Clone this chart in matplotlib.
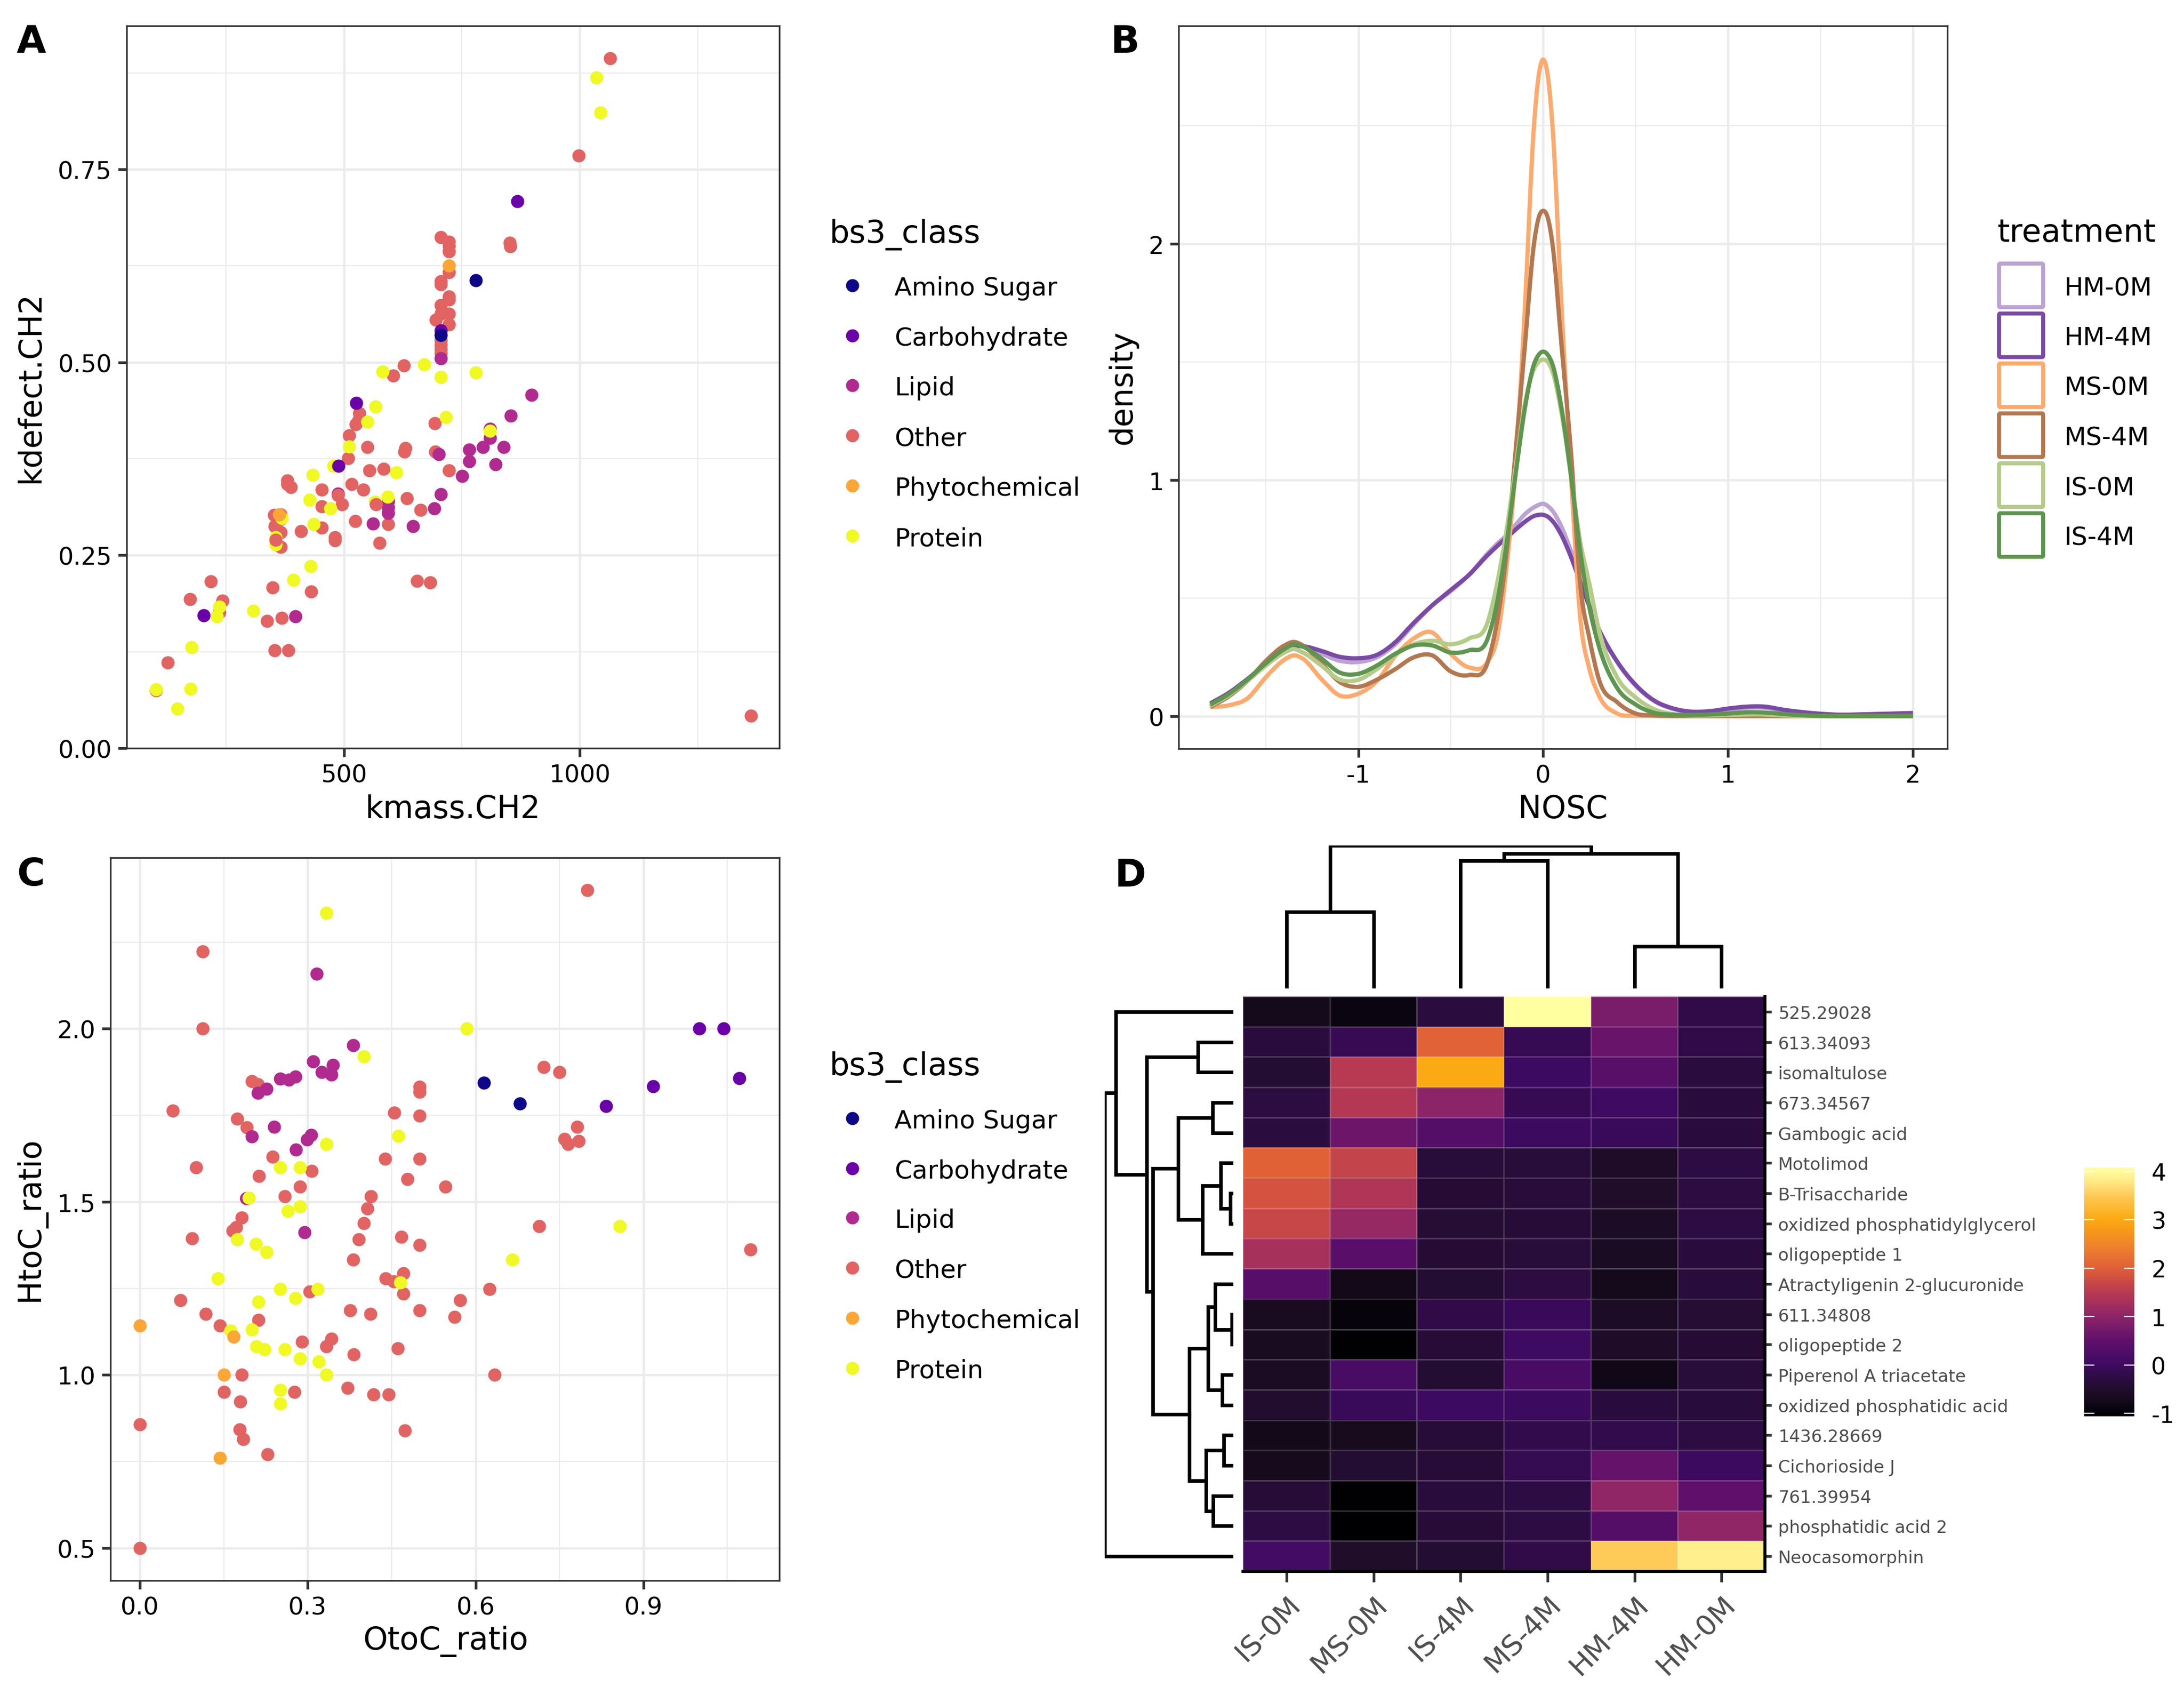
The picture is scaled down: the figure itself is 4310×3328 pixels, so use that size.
import matplotlib
matplotlib.use('Agg')
import matplotlib.pyplot as plt
from matplotlib.colors import LinearSegmentedColormap
from matplotlib.lines import Line2D
from matplotlib.patches import FancyBboxPatch, PathPatch
from matplotlib.path import Path
import numpy as np

W, H = 4310, 3329
plt.rcParams['font.family'] = 'DejaVu Sans'
plt.rcParams['axes.unicode_minus'] = False

# panel A, kmass.CH2 / kdefect.CH2
a_other_x = [1064,998,706,723,723,723,723,706,706,723,723,706,723,706,695,723,706,706,706,706,852,853,627,605,533,525,530,511,693,550,630,628,694,509,554,584,723,380,380,388,516,541,453,634,496,453,662,366,352,366,353,366,524,594,453,409,481,481,575,366,655,683,218,349,431,174,242,236,368,337,353,382,127,102,1363]
a_other_y = [.894,.768,.662,.656,.651,.644,.617,.605,.601,.585,.581,.574,.563,.563,.555,.549,.529,.522,.517,.512,.655,.650,.496,.483,.434,.420,.424,.405,.421,.390,.389,.384,.384,.376,.360,.362,.360,.347,.342,.338,.342,.335,.335,.324,.316,.313,.309,.303,.302,.297,.288,.280,.294,.290,.286,.281,.273,.269,.266,.261,.217,.215,.216,.208,.203,.193,.191,.176,.169,.165,.127,.127,.111,.075,.042]
# the few red points that sit over their neighbours
a_other_top_x = [355,568,487]
a_other_top_y = [.270,.316,.328]
a_protein_x = [1035,1044,582,670,706,780,567,550,716,511,810,478,434,611,427,593,566,471,436,368,355,355,429,393,308,236,231,177,175,102,147]
a_protein_y = [.869,.824,.488,.497,.481,.487,.443,.423,.429,.391,.411,.366,.354,.357,.322,.326,.319,.311,.290,.298,.264,.273,.236,.218,.178,.183,.171,.131,.077,.076,.051]
a_lipid_x = [898,854,810,810,766,795,839,766,822,701,751,706,691,594,594,594,562,646,397,706,487]
a_lipid_y = [.458,.431,.414,.402,.387,.390,.390,.372,.368,.381,.353,.329,.311,.320,.312,.305,.291,.288,.171,.505,.330]
a_carb_x = [868,526,489,203,706]
a_carb_y = [.709,.447,.366,.172,.541]
a_amino_x = [780,706]
a_amino_y = [.606,.535]
a_phyto_x = [723,363]
a_phyto_y = [.625,.303]

# panel C, OtoC / HtoC
c_other_x = [.800,.112,.112,.059,.100,.093,.072,.118,.143,.150,0,0,.174,.191,.200,.211,.237,.213,.259,.286,.307,.182,.172,.166,.413,.407,.400,.391,.381,.438,.455,.500,.500,.500,.500,.478,.546,.467,.500,.471,.439,.454,.471,.500,.572,.562,.625,.634,.714,.722,.750,.782,.759,.765,.784,1.091,.303,.212,.290,.342,.333,.376,.412,.461,.382,.182,.179,.276,.371,.417,.445,.474,.178,.185,.228]
c_other_y = [2.40,2.223,2.0,1.764,1.600,1.395,1.215,1.176,1.142,.950,.857,.5,1.740,1.715,1.849,1.840,1.630,1.575,1.516,1.543,1.589,1.455,1.427,1.416,1.516,1.481,1.439,1.392,1.333,1.624,1.757,1.832,1.817,1.749,1.624,1.566,1.544,1.399,1.375,1.293,1.279,1.270,1.235,1.187,1.215,1.167,1.248,1.0,1.429,1.889,1.874,1.717,1.681,1.666,1.675,1.362,1.241,1.158,1.096,1.104,1.082,1.187,1.176,1.076,1.059,1.0,.923,.950,.962,.943,.943,.840,.843,.814,.771]
c_protein_x = [.333,.584,.400,.462,.333,.251,.286,.195,.286,.264,.174,.207,.226,.139,.858,.666,.465,.251,.318,.278,.212,.200,.162,.208,.223,.259,.286,.320,.333,.251,.251]
c_protein_y = [2.334,2.0,1.920,1.690,1.666,1.600,1.600,1.512,1.486,1.473,1.392,1.378,1.355,1.278,1.429,1.333,1.267,1.248,1.248,1.221,1.211,1.131,1.128,1.082,1.073,1.073,1.047,1.039,1.0,.957,.917]
c_lipid_x = [.316,.381,.310,.325,.345,.342,.251,.266,.278,.226,.211,.240,.200,.279,.299,.306,.190,.294]
c_lipid_y = [2.159,1.952,1.905,1.875,1.895,1.868,1.855,1.852,1.861,1.826,1.815,1.717,1.689,1.650,1.680,1.693,1.510,1.412]
c_carb_x = [1.0,1.043,1.071,.917,.833]
c_carb_y = [2.0,2.0,1.857,1.834,1.777]
c_amino_x = [.615,.679]
c_amino_y = [1.844,1.784]
c_phyto_x = [0,.167,.150,.143]
c_phyto_y = [1.142,1.110,1.0,.760]

classes = ['Amino Sugar','Carbohydrate','Lipid','Other','Phytochemical','Protein']
class_colors = ['#0D0887','#6A00A8','#B12A90','#E16462','#FCA636','#F0F921']

# panel B, density curves
nosc = [-1.8,-1.7,-1.6,-1.5,-1.4,-1.35,-1.3,-1.2,-1.1,-1.0,-.9,-.8,-.7,-.6,-.5,-.4,-.3,-.25,-.2,-.15,-.1,-.05,-.025,0,.025,.05,.1,.15,.2,.25,.3,.4,.5,.6,.7,.8,.9,1.0,1.1,1.2,1.3,1.4,1.5,1.6,1.7,1.8,1.9,2.0]
hm_0m = [.05,.095,.155,.22,.275,.295,.295,.265,.235,.23,.25,.305,.39,.47,.53,.60,.69,.73,.765,.81,.855,.885,.895,.90,.89,.87,.80,.70,.58,.47,.37,.23,.13,.065,.032,.018,.018,.027,.036,.036,.025,.015,.009,.006,.006,.007,.009,.012]
hm_4m = [.055,.10,.158,.223,.277,.297,.297,.277,.252,.246,.26,.314,.396,.47,.535,.60,.683,.72,.755,.79,.823,.848,.853,.853,.845,.827,.765,.675,.568,.465,.371,.232,.133,.067,.034,.02,.022,.033,.041,.041,.028,.018,.011,.007,.008,.01,.012,.014]
ms_0m = [.039,.047,.076,.166,.24,.258,.244,.158,.088,.096,.149,.256,.33,.355,.264,.207,.232,.33,.62,1.05,1.72,2.5,2.71,2.78,2.71,2.5,1.72,1.02,.42,.20,.09,.012,.003,.002,.001,.001,.001,.001,.001,.001,.001,.001,.001,.001,.001,.001,.001,.001]
ms_4m = [.04,.085,.15,.235,.30,.315,.30,.225,.145,.125,.155,.20,.25,.258,.19,.175,.23,.40,.68,1.12,1.56,2.0,2.11,2.14,2.11,2.0,1.56,1.12,.56,.33,.16,.06,.012,.004,.002,.002,.002,.002,.002,.002,.002,.002,.002,.002,.002,.002,.002,.002]
is_0m = [.045,.09,.15,.215,.27,.285,.27,.215,.155,.155,.20,.26,.305,.32,.305,.33,.40,.56,.78,1.05,1.32,1.47,1.50,1.51,1.50,1.46,1.28,1.02,.74,.56,.37,.165,.08,.03,.01,.004,.004,.006,.008,.008,.004,.002,.001,.001,.001,.001,.001,.001]
is_4m = [.05,.095,.155,.225,.285,.305,.295,.245,.185,.18,.215,.265,.30,.30,.27,.28,.33,.48,.72,1.02,1.30,1.49,1.53,1.544,1.53,1.49,1.30,1.02,.70,.46,.30,.12,.05,.015,.007,.006,.008,.012,.017,.016,.01,.005,.002,.001,.001,.001,.001,.001]
treatments = ['HM-0M','HM-4M','MS-0M','MS-4M','IS-0M','IS-4M']
curves = [hm_0m, hm_4m, ms_0m, ms_4m, is_0m, is_4m]
treat_colors = ['#BCA3D4','#7B4AA6','#FDAA6E','#B37850','#B4CC88','#5E9650']

# panel D, heatmap
col_names = ['IS-0M','MS-0M','IS-4M','MS-4M','HM-4M','HM-0M']
row_names = ['525.29028','613.34093','isomaltulose','673.34567','Gambogic acid','Motolimod','B-Trisaccharide','oxidized phosphatidylglycerol','oligopeptide 1','Atractyligenin 2-glucuronide','611.34808','oligopeptide 2','Piperenol A triacetate','oxidized phosphatidic acid','1436.28669','Cichorioside J','761.39954','phosphatidic acid 2','Neocasomorphin']
heat = [[-.72,-.88,-.28,4.08,.8,-.2],
        [-.3,-.1,2.05,-.1,.6,-.2],
        [-.42,1.5,3.02,0,.4,-.28],
        [-.27,1.45,1.0,-.1,.02,-.3],
        [-.28,.65,.35,-.02,-.07,-.3],
        [2.02,1.65,-.35,-.35,-.55,-.25],
        [1.85,1.4,-.38,-.35,-.52,-.27],
        [1.68,1.12,-.4,-.36,-.58,-.25],
        [1.3,.42,-.38,-.34,-.62,-.3],
        [.38,-.75,-.42,-.27,-.72,-.32],
        [-.64,-.95,-.2,-.07,-.58,-.4],
        [-.64,-1.03,-.36,.02,-.55,-.38],
        [-.6,.15,-.42,.15,-.78,-.34],
        [-.46,-.07,0,-.02,-.3,-.32],
        [-.75,-.68,-.36,-.17,-.18,-.25],
        [-.7,-.42,-.36,-.12,.55,-.03],
        [-.36,-1.02,-.33,-.25,1.05,.52],
        [-.25,-1.06,-.36,-.25,.35,1.05],
        [.07,-.52,-.42,-.2,3.5,3.85]]
heat_min, heat_max = -1.06, 4.08
# colour bar
scale_values = [-1.06,-.9,-.7,-.5,-.3,0,.5,1.0,1.5,2.0,2.5,3.0,3.5,3.85,4.08]
scale_colors = ['#000002','#0A0510','#170B1D','#210D2C','#2A0C3E','#3E0A62','#5F106A','#8C2468','#B83A52','#E05F38','#F0852A','#FCA80F','#FEC956','#FFEE8C','#FFFFA0']

# merges: left child, right child, height (ids above the leaves are earlier merges)
top_merges = [(0,1,141),(2,3,235),(4,5,77),(7,8,248),(6,9,263)]
left_merges = [(1,2,51),(3,4,30),(6,7,4),(5,21,18),(22,8,44),(20,23,79),(10,11,2),(9,25,26),(12,13,16),(26,27,36),(14,15,14),(16,17,29),(29,30,39),(28,31,63),(24,32,115),(19,33,124),(0,34,168),(35,18,184)]


def fx(x):
    return x / W


def fy(y):
    return 1 - y / H


def axes_px(left, top, right, bottom):
    return fig.add_axes([fx(left), fy(bottom), (right - left) / W, (bottom - top) / H])


def theme_bw(ax, xmajor, xminor, ymajor, yminor):
    ax.set_xticks(xmajor)
    ax.set_yticks(ymajor)
    ax.set_axisbelow(True)
    for v in xmajor:
        ax.axvline(v, color='#EBEBEB', lw=1.1, zorder=0)
    for v in ymajor:
        ax.axhline(v, color='#EBEBEB', lw=1.1, zorder=0)
    for v in xminor:
        ax.axvline(v, color='#EBEBEB', lw=0.55, zorder=0)
    for v in yminor:
        ax.axhline(v, color='#EBEBEB', lw=0.55, zorder=0)
    ax.tick_params(length=4, width=1.3, color='#333333', labelsize=11.5, pad=3)
    for s in ax.spines.values():
        s.set_color('#333333')
        s.set_linewidth(0.8)


def set_labels(ax, xlabel, ylabel, xpos, ypos):
    ax.set_xlabel(xlabel, fontsize=14.8, va='center')
    ax.set_ylabel(ylabel, fontsize=14.8, va='center')
    ax.xaxis.set_label_coords(fx(xpos[0]), fy(xpos[1]), transform=fig.transFigure)
    ax.yaxis.set_label_coords(fx(ypos[0]), fy(ypos[1]), transform=fig.transFigure)
    for lab in ax.get_yticklabels():
        lab.set_va('center_baseline')


def class_legend(title_y, rows_y):
    fig.text(fx(1636), fy(title_y), 'bs3_class', fontsize=15, va='center_baseline')
    for name, col, y in zip(classes, class_colors, rows_y):
        fig.add_artist(Line2D([fx(1682)], [fy(y)], marker='o', ms=6.2, mew=0, color=col, transform=fig.transFigure))
        fig.text(fx(1765), fy(y), name, fontsize=12, va='center_baseline')


def density_line(ax, x, y, col):
    # bezier through the read values so the curve is not angular
    x = np.array(x)
    y = np.array(y)
    slope = np.gradient(y, x)
    verts = [(x[0], y[0])]
    codes = [Path.MOVETO]
    for i in range(len(x) - 1):
        dx = (x[i + 1] - x[i]) / 3
        verts += [(x[i] + dx, y[i] + slope[i] * dx), (x[i + 1] - dx, y[i + 1] - slope[i + 1] * dx), (x[i + 1], y[i + 1])]
        codes += [Path.CURVE4, Path.CURVE4, Path.CURVE4]
    ax.add_patch(PathPatch(Path(verts, codes), fill=False, ec=col, lw=2.0, zorder=3, capstyle='butt'))


def draw_tree(ax, merges, n_leaves, horizontal):
    pos = [i + 0.5 for i in range(n_leaves)]
    hts = [0] * n_leaves
    for a, b, h in merges:
        xs = [pos[a], pos[a], pos[b], pos[b]]
        ys = [hts[a], h, h, hts[b]]
        if horizontal:
            ax.plot(ys, xs, color='black', lw=1.7, solid_joinstyle='miter')
        else:
            ax.plot(xs, ys, color='black', lw=1.7, solid_joinstyle='miter')
        pos.append((pos[a] + pos[b]) / 2)
        hts.append(h)
    ax.axis('off')


fig = plt.figure(figsize=(W / 300, H / 300), dpi=300, facecolor='white')

# A
ax_a = axes_px(250, 52, 1538, 1477)
for xs, ys, i in [(a_other_x, a_other_y, 3), (a_lipid_x, a_lipid_y, 2), (a_protein_x, a_protein_y, 5),
                  (a_other_top_x, a_other_top_y, 3), (a_carb_x, a_carb_y, 1), (a_amino_x, a_amino_y, 0),
                  (a_phyto_x, a_phyto_y, 4)]:
    ax_a.scatter(xs, ys, s=39, color=class_colors[i], linewidths=0, zorder=3)
ax_a.set_xlim(39.5, 1423)
ax_a.set_ylim(0, 0.936)
theme_bw(ax_a, [500, 1000], [250, 750, 1250], [0, .25, .5, .75], [.125, .375, .625, .875])
ax_a.set_yticklabels(['0.00', '0.25', '0.50', '0.75'])
set_labels(ax_a, 'kmass.CH2', 'kdefect.CH2', (893, 1597), (60, 764))
class_legend(456, [y * 2.749 for y in [205, 241, 277, 313, 349, 385]])

# B
ax_b = axes_px(2326, 52, 3843, 1478)
for y, col in zip(curves, treat_colors):
    density_line(ax_b, nosc, y, col)
ax_b.set_xlim(-1.972, 2.186)
ax_b.set_ylim(-0.137, 2.923)
theme_bw(ax_b, [-1, 0, 1, 2], [-1.5, -.5, .5, 1.5], [0, 1, 2], [.5, 1.5, 2.5])
set_labels(ax_b, 'NOSC', 'density', (3084, 1597), (2216, 764))
fig.text(fx(3941), fy(454), 'treatment', fontsize=15, va='center_baseline')
for i, (name, col) in enumerate(zip(treatments, treat_colors)):
    yc = 564 + 98.5 * i
    key = FancyBboxPatch((fx(3945), fy(yc + 43)), 87 / W, 86 / H, boxstyle='round,pad=0,rounding_size=0.0006',
                         fc='white', ec=col, lw=1.9, transform=fig.transFigure, mutation_aspect=W / H)
    fig.add_artist(key)
    fig.text(fx(4073), fy(yc), name, fontsize=12, va='center_baseline')

# C
ax_c = axes_px(218, 1693, 1538, 3119)
for xs, ys, i in [(c_other_x, c_other_y, 3), (c_lipid_x, c_lipid_y, 2), (c_protein_x, c_protein_y, 5),
                  (c_carb_x, c_carb_y, 1), (c_amino_x, c_amino_y, 0), (c_phyto_x, c_phyto_y, 4)]:
    ax_c.scatter(xs, ys, s=39, color=class_colors[i], linewidths=0, zorder=3)
ax_c.set_xlim(-0.0527, 1.143)
ax_c.set_ylim(0.406, 2.494)
theme_bw(ax_c, [0, .3, .6, .9], [.15, .45, .75, 1.05], [.5, 1, 1.5, 2], [.75, 1.25, 1.75, 2.25])
ax_c.set_xticklabels(['0.0', '0.3', '0.6', '0.9'])
ax_c.set_yticklabels(['0.5', '1.0', '1.5', '2.0'])
set_labels(ax_c, 'OtoC_ratio', 'HtoC_ratio', (880, 3238), (60, 2405))
class_legend(763 * 2.749, [y * 2.749 for y in [803, 839, 874, 910, 946, 982]])

# D
stops = [(v - heat_min) / (heat_max - heat_min) for v in scale_values]
heat_cmap = LinearSegmentedColormap.from_list('heat_scale', list(zip(stops, scale_colors)))
ax_h = axes_px(2453, 1967, 3483, 3101)
mesh = ax_h.pcolormesh(np.array(heat), cmap=heat_cmap, vmin=heat_min, vmax=heat_max,
                       edgecolors=(1, 1, 1, 0.15), linewidth=0.3)
ax_h.set_xlim(0, 6)
ax_h.set_ylim(19, 0)
ax_h.set_xticks(np.arange(6) + 0.5)
ax_h.set_xticklabels(col_names, rotation=45, ha='right', va='top', rotation_mode='anchor', fontsize=13.5, color='#4D4D4D')
ax_h.yaxis.tick_right()
ax_h.set_yticks(np.arange(19) + 0.5)
ax_h.set_yticklabels(row_names, fontsize=8.2, color='#4D4D4D', va='center_baseline')
ax_h.tick_params(axis='x', length=5, width=1.3, color='#333333', pad=4)
ax_h.tick_params(axis='y', length=3.2, width=1.3, color='#333333', pad=3)
for side in ['left', 'top']:
    ax_h.spines[side].set_visible(False)
for side in ['right', 'bottom']:
    ax_h.spines[side].set_color('black')
    ax_h.spines[side].set_linewidth(1.4)

ax_top = axes_px(2453, 1669, 3483, 1951)
draw_tree(ax_top, top_merges, 6, False)
ax_top.set_xlim(0, 6)
ax_top.set_ylim(0, 263)

ax_left = axes_px(2180, 1967, 2434, 3101)
draw_tree(ax_left, left_merges, 19, True)
ax_left.set_xlim(184, 0)
ax_left.set_ylim(19, 0)

cax = axes_px(4113, 2304, 4212, 2795)
cb = fig.colorbar(mesh, cax=cax, ticks=[-1, 0, 1, 2, 3, 4])
cb.outline.set_visible(False)
cb.ax.tick_params(length=0, labelsize=11, pad=8)
for lab in cb.ax.get_yticklabels():
    lab.set_va('center_baseline')
for v in [-1, 0, 1, 2, 3, 4]:
    cax.plot([0, 0.19], [v, v], color='white', lw=0.55, transform=cax.get_yaxis_transform())
    cax.plot([0.81, 1], [v, v], color='white', lw=0.55, transform=cax.get_yaxis_transform())

for letter, x, y in [('A', 33, 84), ('B', 2191, 84), ('C', 33, 1727), ('D', 2199, 1729)]:
    fig.text(fx(x), fy(y), letter, fontsize=18, fontweight='bold', va='center')

fig.savefig('out.png', dpi=300, facecolor='white')
